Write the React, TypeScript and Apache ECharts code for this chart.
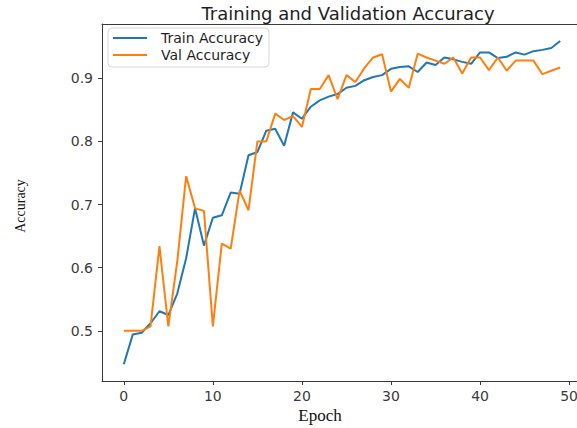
import React, { useEffect, useRef } from "react";
import * as echarts from "echarts";

const trainAccuracy = [
  0.447, 0.494, 0.497, 0.512, 0.531, 0.525, 0.559, 0.615, 0.694, 0.635,
  0.679, 0.683, 0.719, 0.717, 0.778, 0.783, 0.817, 0.82, 0.793, 0.846,
  0.836, 0.855, 0.865, 0.871, 0.875, 0.885, 0.888, 0.897, 0.902, 0.905,
  0.915, 0.918, 0.919, 0.91, 0.925, 0.921, 0.933, 0.93, 0.926, 0.923,
  0.941, 0.941, 0.932, 0.934, 0.941, 0.9375, 0.943, 0.945, 0.948, 0.959,
];

const valAccuracy = [
  0.5, 0.5, 0.5, 0.507, 0.634, 0.507, 0.61, 0.745, 0.694, 0.69,
  0.507, 0.638, 0.63, 0.722, 0.691, 0.8, 0.8, 0.844, 0.834, 0.84,
  0.823, 0.883, 0.883, 0.905, 0.867, 0.905, 0.894, 0.916, 0.933, 0.938,
  0.879, 0.899, 0.885, 0.939, 0.933, 0.928, 0.923, 0.933, 0.9075, 0.933,
  0.933, 0.913, 0.933, 0.912, 0.928, 0.928, 0.928, 0.9065, 0.912, 0.917,
];

const xTicks = [0, 10, 20, 30, 40, 50];
const yTicks = [0.5, 0.6, 0.7, 0.8, 0.9];

const TITLE = "Training and Validation Accuracy";
const X_NAME = "Epoch";
const Y_NAME = "Accuracy";
const SERIES_NAMES = ["Train Accuracy", "Val Accuracy"];

export default function App() {
  const ref = useRef<HTMLDivElement>(null);

  useEffect(() => {
    if (!ref.current) return;
    const chart = echarts.init(ref.current, undefined, { renderer: "svg" });
    const pairs = (arr: number[]) => arr.map((v, i) => [i, v]);
    const spine = "#3a3a3a";
    const tickFont = {
      fontFamily: "DejaVu Sans",
      fontSize: 14,
      color: "#3a3a3a",
    };
    chart.setOption({
      animation: false,
      backgroundColor: "#ffffff",
      title: {
        text: TITLE,
        left: 343,
        textAlign: "center",
        top: -1,
        textStyle: {
          fontFamily: "DejaVu Sans",
          fontSize: 18,
          fontWeight: "normal",
          color: "#1e1e1e",
        },
      },
      grid: {
        left: 102,
        top: 24,
        width: 480,
        bottom: 47,
        show: false,
        outerBoundsMode: "none",
        containLabel: false,
      },
      legend: {
        left: 108,
        top: 28,
        orient: "vertical",
        icon: "rect",
        itemWidth: 34,
        itemHeight: 2,
        itemGap: 1,
        padding: [2, 6, 4, 5],
        backgroundColor: "rgba(255,255,255,0.85)",
        borderColor: "#d6d6d6",
        borderWidth: 1,
        borderRadius: 4,
        textStyle: {
          fontFamily: "DejaVu Sans",
          fontSize: 14,
          color: "#1e1e1e",
          padding: [0, 0, 0, 9],
          lineHeight: 16,
        },
        data: SERIES_NAMES,
      },
      xAxis: [
        {
          type: "value",
          min: -2.45,
          max: 51.45,
          axisLine: { show: true, onZero: false, lineStyle: { color: spine, width: 1 } },
          axisTick: {
            show: true,
            length: 4,
            customValues: xTicks,
            lineStyle: { color: spine },
          },
          axisLabel: {
            customValues: xTicks,
            margin: 8,
            ...tickFont,
          },
          splitLine: { show: false },
        },
        {
          type: "value",
          position: "top",
          min: -2.45,
          max: 51.45,
          axisLine: { show: true, onZero: false, lineStyle: { color: spine, width: 1 } },
          axisTick: { show: false },
          axisLabel: { show: false },
          splitLine: { show: false },
        },
      ],
      yAxis: {
        type: "value",
        min: 0.4205,
        max: 0.986,
        axisLine: { show: true, onZero: false, lineStyle: { color: spine, width: 1 } },
        axisTick: {
          show: true,
          length: 4,
          customValues: yTicks,
          lineStyle: { color: spine },
        },
        axisLabel: {
          customValues: yTicks,
          margin: 9,
          formatter: (v: number) => v.toFixed(1),
          ...tickFont,
        },
        splitLine: { show: false },
      },
      graphic: [
        {
          type: "text",
          x: 320,
          y: 415,
          style: {
            text: X_NAME,
            fontFamily: "Liberation Serif",
            fontSize: 17,
            fill: "#111",
            align: "center",
            verticalAlign: "middle",
          },
        },
        {
          type: "text",
          x: 20,
          y: 206,
          rotation: Math.PI / 2,
          style: {
            text: Y_NAME,
            fontFamily: "Liberation Serif",
            fontSize: 14,
            fill: "#111",
            align: "center",
            verticalAlign: "middle",
          },
        },
      ],
      series: [
        {
          name: SERIES_NAMES[0],
          type: "line",
          xAxisIndex: 0,
          data: pairs(trainAccuracy),
          showSymbol: false,
          color: "#1f77b4",
          lineStyle: { width: 2, color: "#1f77b4" },
          z: 2,
        },
        {
          name: SERIES_NAMES[1],
          type: "line",
          xAxisIndex: 0,
          data: pairs(valAccuracy),
          showSymbol: false,
          color: "#ff7f0e",
          lineStyle: { width: 2, color: "#ff7f0e" },
          z: 3,
        },
      ],
    });
    return () => chart.dispose();
  }, []);

  return (
    <div
      ref={ref}
      style={{ position: "fixed", left: 0, top: 0, width: 577, height: 428 }}
    />
  );
}
